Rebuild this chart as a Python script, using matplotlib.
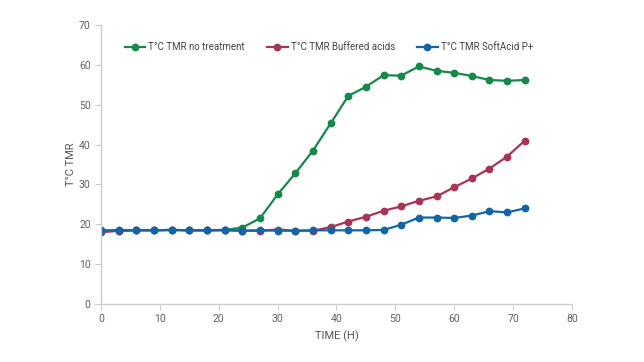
import matplotlib
matplotlib.use("Agg")
import matplotlib.pyplot as plt

plt.rcParams['font.family'] = ['Roboto', 'DejaVu Sans']

hours = [0, 3, 6, 9, 12, 15, 18, 21, 24, 27, 30, 33, 36, 39, 42, 45, 48, 51, 54, 57, 60, 63, 66, 69, 72]
no_treatment = [18.5, 18.3, 18.5, 18.5, 18.6, 18.5, 18.5, 18.6, 19.2, 21.5, 27.5, 32.8, 38.5, 45.3, 52.2, 54.5,
                57.4, 57.3, 59.6, 58.5, 58.0, 57.2, 56.2, 56.0, 56.2]
buffered = [18.0, 18.4, 18.6, 18.5, 18.6, 18.5, 18.5, 18.6, 18.4, 18.4, 18.7, 18.4, 18.4, 19.3, 20.7, 21.9,
            23.4, 24.5, 25.9, 27.0, 29.3, 31.5, 34.0, 37.0, 41.0]
softacid = [18.4, 18.6, 18.5, 18.5, 18.6, 18.5, 18.5, 18.5, 18.4, 18.5, 18.4, 18.4, 18.5, 18.5, 18.5, 18.5,
            18.6, 19.9, 21.7, 21.7, 21.6, 22.2, 23.3, 23.0, 24.0]
labels = ["T°C TMR no treatment", "T°C TMR Buffered acids", "T°C TMR SoftAcid P+"]
colors = ["#17874a", "#a8345a", "#1565a5"]

fig = plt.figure(figsize=(6.44, 3.62), dpi=100)
ax = fig.add_axes([0.157, 0.160, 0.731, 0.771])

for ys, lab, c in zip([no_treatment, buffered, softacid], labels, colors):
    ax.plot(hours, ys, color=c, lw=1.6, marker='o', ms=4.6, label=lab)

ax.set_xlim(0, 80)
ax.set_ylim(0, 70)
ax.set_xticks(range(0, 81, 10))
ax.set_yticks(range(0, 71, 10))
for s in ['top', 'right']:
    ax.spines[s].set_visible(False)
for s in ['left', 'bottom']:
    ax.spines[s].set_color('#cccccc')
    ax.spines[s].set_linewidth(1)
ax.tick_params(colors='#cccccc', labelcolor='#606060', labelsize=7.5, length=4, width=0.8)
ax.set_xlabel("TIME (H)", fontsize=8, color='#555555', labelpad=4)
ax.set_ylabel("T°C TMR", fontsize=8, color='#555555', labelpad=2)

leg = ax.legend(loc='center', bbox_to_anchor=(0.484, 0.921), ncol=3, frameon=False,
                fontsize=7, handlelength=2.1, columnspacing=2.3, handletextpad=0.3,
                borderaxespad=0, borderpad=0)
for t in leg.get_texts():
    t.set_color('#444444')

fig.savefig("out.png", dpi=100)
